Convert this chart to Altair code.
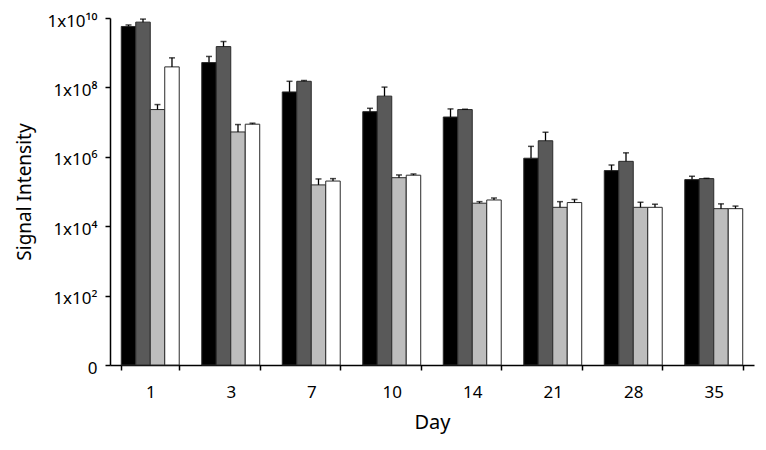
import altair as alt
import pandas as pd

days = ["1", "3", "7", "10", "14", "21", "28", "35"]
series = ["Series 1", "Series 2", "Series 3", "Series 4"]
colors = ["#000000", "#595959", "#bdbdbd", "#ffffff"]

mean_s1 = [5.7e9, 5.2e8, 7.4e7, 2.0e7, 1.4e7, 9.1e5, 4.0e5, 2.2e5]
err_s1 = [6.3e9, 7.8e8, 1.5e8, 2.5e7, 2.4e7, 2.0e6, 5.8e5, 2.75e5]
mean_s2 = [7.6e9, 1.5e9, 1.5e8, 5.6e7, 2.3e7, 2.9e6, 7.4e5, 2.35e5]
err_s2 = [9.3e9, 2.1e9, 1.58e8, 1.02e8, 2.35e7, 5.1e6, 1.3e6, 2.4e5]
mean_s3 = [2.3e7, 5.2e6, 1.55e5, 2.5e5, 4.6e4, 3.5e4, 3.5e4, 3.2e4]
err_s3 = [3.2e7, 8.5e6, 2.3e5, 3.0e5, 5.1e4, 5.1e4, 4.9e4, 4.4e4]
mean_s4 = [3.9e8, 8.7e6, 2.0e5, 2.95e5, 5.7e4, 4.8e4, 3.5e4, 3.2e4]
err_s4 = [7.1e8, 9.3e6, 2.35e5, 3.2e5, 6.5e4, 5.9e4, 4.3e4, 3.8e4]

tick_values = [1, 100, 1e4, 1e6, 1e8, 1e10]
tick_labels = ["0", "1x10\u00b2", "1x10\u2074", "1x10\u2076", "1x10\u2078", "1x10\u00b9\u2070"]

means = [mean_s1, mean_s2, mean_s3, mean_s4]
errs = [err_s1, err_s2, err_s3, err_s4]
rows = []
for s, m, e in zip(series, means, errs):
    for d, mv, ev in zip(days, m, e):
        rows.append({"Day": d, "Series": s, "mean": mv, "err": ev})
df = pd.DataFrame(rows)

label_expr = "''"
for v, lab in reversed(list(zip(tick_values, tick_labels))):
    label_expr = f"datum.value == {v:.0f} ? '{lab}' : ({label_expr})"

FONT = "Noto Sans"

x = alt.X(
    "Day:N", sort=days, title="Day",
    scale=alt.Scale(paddingInner=0.28, paddingOuter=0.14),
    axis=alt.Axis(labelAngle=0, tickBand="extent", labelFontSize=17, titleFontSize=20,
                  labelPadding=14, titlePadding=12, labelFont=FONT, titleFont=FONT,
                  titleFontWeight="normal", domainColor="black", tickColor="black",
                  domainWidth=1.5, tickWidth=1.5, tickSize=5, labelColor="black",
                  titleColor="black", grid=False),
)
xo = alt.XOffset("Series:N", sort=series, scale=alt.Scale(paddingInner=0, paddingOuter=0))
yscale = alt.Scale(type="log", domain=[1, 1e10], nice=False)
yaxis = alt.Axis(values=tick_values, labelExpr=label_expr, labelFontSize=17, titleFontSize=19,
                 labelFont=FONT, titleFont=FONT, titleFontWeight="normal", domainColor="black",
                 tickColor="black", domainWidth=1.5, tickWidth=1.5, tickSize=5, labelPadding=8,
                 labelOffset=3, titlePadding=12, labelColor="black", titleColor="black", grid=False)

bars = alt.Chart(df).mark_bar(stroke="#2a2a2a", strokeWidth=1).encode(
    x=x, xOffset=xo,
    y=alt.Y("mean:Q", scale=yscale, axis=yaxis, title="Signal Intensity"),
    y2=alt.datum(1),
    color=alt.Color("Series:N", scale=alt.Scale(domain=series, range=colors), legend=None),
)
rules = alt.Chart(df).mark_rule(color="black", strokeWidth=1.3).encode(
    x=x, xOffset=xo,
    y=alt.Y("mean:Q", scale=yscale, axis=yaxis, title="Signal Intensity"),
    y2="err:Q",
)
caps = alt.Chart(df).mark_tick(color="black", size=6, thickness=1.5, orient="horizontal").encode(
    x=x, xOffset=xo,
    y=alt.Y("err:Q", scale=yscale, axis=yaxis, title="Signal Intensity"),
)

chart = (bars + rules + caps).properties(
    width=644, height=347,
    autosize=alt.AutoSizeParams(type="none"),
    padding={"left": 102, "top": 10, "right": 4, "bottom": 76},
).configure_view(stroke=None)
chart.save("out.html", embed_options={"renderer": "svg", "actions": False})
